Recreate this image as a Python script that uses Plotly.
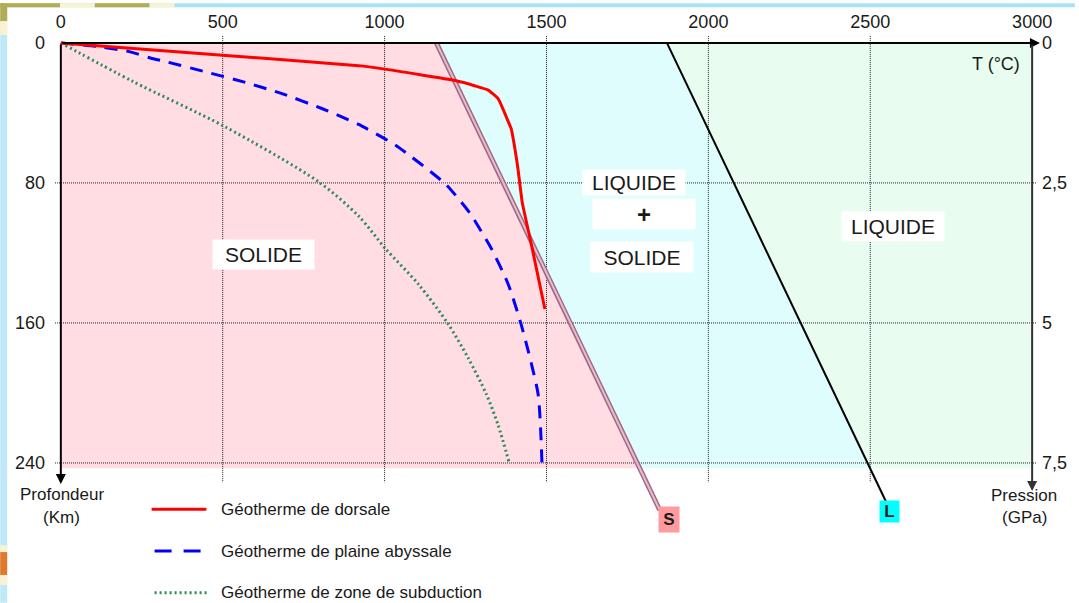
import numpy as np
import plotly.graph_objects as go

# ---------------- data ----------------
temp_ticks = [0, 500, 1000, 1500, 2000, 2500, 3000]
depth_ticks = [0, 80, 160, 240]
pressure_ticks = [0, 2.5, 5, 7.5]
pressure_labels = ["0", "2,5", "5", "7,5"]

solidus_T = [1160, 1368, 1574, 1780, 1850]
solidus_depth = [0, 80, 160, 240, 267]

liquidus_T = [1872, 2078, 2285, 2492, 2551]
liquidus_depth = [0, 80, 160, 240, 263]

dorsale_T = [0, 500, 920, 1000, 1218, 1280, 1320, 1351, 1382, 1391, 1403, 1412, 1425, 1452, 1495]
dorsale_depth = [0, 7, 13, 15, 21.5, 24.6, 27, 32, 45, 49, 61, 72, 91, 114, 152]

abyssale_T = [0, 120, 212, 274, 330, 450, 572, 683, 806, 889, 920, 1034, 1188, 1228, 1265, 1330, 1382, 1422, 1474, 1486]
abyssale_depth = [0, 2.3, 5, 8.5, 11, 16.7, 22.7, 29, 37.5, 44, 46.6, 58.5, 80.6, 89, 97.7, 117.6, 138, 161, 200.6, 240]

subduction_T = [0, 222, 505, 797, 920, 1003, 1105, 1197, 1258, 1314, 1350, 1385]
subduction_depth = [0, 22, 47.7, 79.5, 99, 117.6, 138, 160.8, 180, 200.6, 218, 240]

legend_labels = ["Géotherme de dorsale", "Géotherme de plaine abyssale", "Géotherme de zone de subduction"]

# ---------------- geometry helpers ----------------
FW, FH = 1079, 603
ML, MR, MT, MB = 55, 38, 32, 35
PW, PH = FW - ML - MR, FH - MT - MB
XR = [-18, 3015]
YR = [300, -4.5]
kx = PW / (XR[1] - XR[0])
ky = PH / (YR[0] - YR[1])
x0px = ML - XR[0] * kx
y0px = MT - YR[1] * ky


def t_of(px):
    return (px - x0px) / kx


def d_of(py):
    return (py - y0px) / ky


def pxp(px):
    return (px - ML) / PW


def pyp(py):
    return (MT + PH - py) / PH


FONT = "Liberation Sans, Arial, sans-serif"
fig = go.Figure()

# ---------------- region fills ----------------
fill_bottom = 243
sb = float(np.interp(fill_bottom, solidus_depth, solidus_T))
lb = float(np.interp(fill_bottom, liquidus_depth, liquidus_T))
sol_x = [t for t, d in zip(solidus_T, solidus_depth) if d < fill_bottom] + [sb]
sol_y = [d for d in solidus_depth if d < fill_bottom] + [fill_bottom]
liq_x = [t for t, d in zip(liquidus_T, liquidus_depth) if d < fill_bottom] + [lb]
liq_y = [d for d in liquidus_depth if d < fill_bottom] + [fill_bottom]


def add_fill(x, y, color):
    fig.add_trace(go.Scatter(x=x, y=y, fill="toself", fillcolor=color, mode="lines",
                             line=dict(width=0), hoverinfo="skip", showlegend=False))


add_fill([0] + sol_x + [0], [0] + sol_y + [fill_bottom], "#FFDDE3")
add_fill(sol_x + liq_x[::-1], sol_y + liq_y[::-1], "#DFFDFD")
add_fill(liq_x + [3000, 3000], liq_y + [fill_bottom, 0], "#E8FCEF")

# ---------------- grid lines ----------------
gx, gy = [], []
for t in temp_ticks[1:-1]:
    gx += [t, t, None]
    gy += [-4, 251, None]
for d in depth_ticks[1:]:
    gx += [-18, 3012, None]
    gy += [d, d, None]
fig.add_trace(go.Scatter(x=gx, y=gy, mode="lines", line=dict(color="#222222", width=1, dash="1px,1px"),
                         hoverinfo="skip", showlegend=False))

# ---------------- solidus / liquidus ----------------
fig.add_trace(go.Scatter(x=solidus_T, y=solidus_depth, mode="lines",
                         line=dict(color="#9C6A86", width=5), hoverinfo="skip", showlegend=False))
fig.add_trace(go.Scatter(x=solidus_T, y=solidus_depth, mode="lines",
                         line=dict(color="#EBBACB", width=2), hoverinfo="skip", showlegend=False))
fig.add_trace(go.Scatter(x=liquidus_T, y=liquidus_depth, mode="lines",
                         line=dict(color="#000000", width=2), hoverinfo="skip", showlegend=False))

# ---------------- geotherms ----------------
fig.add_trace(go.Scatter(x=subduction_T, y=subduction_depth, mode="lines", name=legend_labels[2],
                         line=dict(color="#2E8B57", width=3, dash="2px,3px", shape="spline", smoothing=0.8),
                         showlegend=False))
fig.add_trace(go.Scatter(x=abyssale_T, y=abyssale_depth, mode="lines", name=legend_labels[1],
                         line=dict(color="#0000FF", width=3, dash="13px,9px", shape="spline", smoothing=0.6),
                         showlegend=False))
fig.add_trace(go.Scatter(x=dorsale_T, y=dorsale_depth, mode="lines", name=legend_labels[0],
                         line=dict(color="#FF0000", width=3, shape="spline", smoothing=0.4),
                         showlegend=False))

# pressure axis carrier
fig.add_trace(go.Scatter(x=[None], y=[None], yaxis="y2", showlegend=False, hoverinfo="skip"))

# ---------------- annotations ----------------
ann = []
ann.append(dict(x=3024, y=0, ax=0, ay=0, xref="x", yref="y", axref="x", ayref="y", text="",
                showarrow=True, arrowhead=2, arrowsize=1, arrowwidth=2, arrowcolor="#000", standoff=0))
ann.append(dict(x=0, y=252, ax=0, ay=0, xref="x", yref="y", axref="x", ayref="y", text="",
                showarrow=True, arrowhead=2, arrowsize=1, arrowwidth=2, arrowcolor="#000", standoff=0))
ann.append(dict(x=3000, y=256, ax=3000, ay=0, xref="x", yref="y", axref="x", ayref="y", text="",
                showarrow=True, arrowhead=2, arrowsize=1, arrowwidth=2, arrowcolor="#333", standoff=0))


def box_label(text, cx, cy, w, h, size=21, bg="white", bold=False):
    ann.append(dict(x=t_of(cx), y=d_of(cy), xref="x", yref="y", text=("<b>%s</b>" % text) if bold else text,
                    showarrow=False, bgcolor=bg, width=w, height=h, align="center", valign="middle",
                    font=dict(family=FONT, size=size, color="#1a1a1a"), borderpad=0))


box_label("SOLIDE", 264.5, 253, 101, 29)
box_label("LIQUIDE", 636, 180, 102, 25)
box_label("+", 646, 212, 102, 30, size=24, bold=True)
box_label("SOLIDE", 644, 255, 102, 30)
box_label("LIQUIDE", 896, 224.5, 102, 29)
box_label("S", 671, 519.5, 20, 25, size=17, bg="#FF9A9E", bold=True)
box_label("L", 892.5, 511.5, 19, 21, size=17, bg="#00FFFF", bold=True)


def text_px(text, cx, cy, size=17, xanchor="center"):
    ann.append(dict(x=pxp(cx), y=pyp(cy), xref="paper", yref="paper", text=text, showarrow=False,
                    xanchor=xanchor, yanchor="middle", font=dict(family=FONT, size=size, color="#1a1a1a")))


text_px("T (°C)", 1000, 61, size=18)
text_px("Profondeur", 62, 494)
text_px("(Km)", 62, 517)
text_px("Pression", 1028, 495)
text_px("(GPa)", 1028, 517)

legend_y = [509, 551, 593]
for lab, yy in zip(legend_labels, legend_y):
    text_px(lab, 220, yy, size=17, xanchor="left")

# ---------------- shapes (legend symbols, page border) ----------------
shapes = []
shapes.append(dict(type="line", xref="paper", yref="paper", x0=pxp(152), x1=pxp(207), y0=pyp(509), y1=pyp(509),
                   line=dict(color="#FF0000", width=3)))
shapes.append(dict(type="line", xref="paper", yref="paper", x0=pxp(155), x1=pxp(202), y0=pyp(551), y1=pyp(551),
                   line=dict(color="#0000FF", width=3, dash="17px,12px")))
shapes.append(dict(type="line", xref="paper", yref="paper", x0=pxp(155), x1=pxp(209), y0=pyp(593), y1=pyp(593),
                   line=dict(color="#2E8B57", width=3, dash="2px,3px")))


def rect_px(x0, y0, x1, y1, color):
    shapes.append(dict(type="rect", xref="paper", yref="paper", x0=pxp(x0), x1=pxp(x1), y0=pyp(y1), y1=pyp(y0),
                       fillcolor=color, line=dict(width=0), layer="below"))


rect_px(0, 0, FW, 4, "#A9E2F6")
rect_px(0, 0, 7, FH, "#BFE9F8")
rect_px(0, 0, 60, 4, "#B2AD55")
rect_px(60, 0, 95, 4, "#FBF3CF")
rect_px(95, 0, 150, 4, "#B2AD55")
rect_px(150, 0, 175, 4, "#FBF3CF")
rect_px(0, 0, 7, 18, "#B2AD55")
rect_px(0, 18, 7, 32, "#FBF3CF")
rect_px(0, 545, 7, 552, "#FBF3CF")
rect_px(0, 552, 7, 575, "#E07A2A")
rect_px(0, 575, 7, 585, "#FBF3CF")

fig.update_layout(
    width=FW, height=FH,
    margin=dict(l=ML, r=MR, t=MT, b=MB, pad=0),
    paper_bgcolor="white", plot_bgcolor="white",
    showlegend=False,
    font=dict(family=FONT, color="#1a1a1a"),
    xaxis=dict(range=XR, side="top", tickvals=temp_ticks, showgrid=False, zeroline=False, showline=False,
               ticks="", tickfont=dict(size=18, color="#1a1a1a"), ticklabelstandoff=2, fixedrange=True),
    yaxis=dict(range=YR, tickvals=depth_ticks, showgrid=False, zeroline=False, showline=False,
               ticks="", tickfont=dict(size=18, color="#1a1a1a"), ticklabelstandoff=9, fixedrange=True),
    yaxis2=dict(range=[YR[0] / 32, YR[1] / 32], overlaying="y", side="right", anchor="x",
                tickvals=pressure_ticks, ticktext=pressure_labels, showgrid=False, zeroline=False,
                showline=False, ticks="", tickfont=dict(size=18, color="#1a1a1a"), ticklabelstandoff=4,
                fixedrange=True),
    annotations=ann,
    shapes=shapes,
)

fig.write_html("out.html", config={"displayModeBar": False},
               post_script="document.body.style.margin='0';document.body.style.overflow='hidden';")
